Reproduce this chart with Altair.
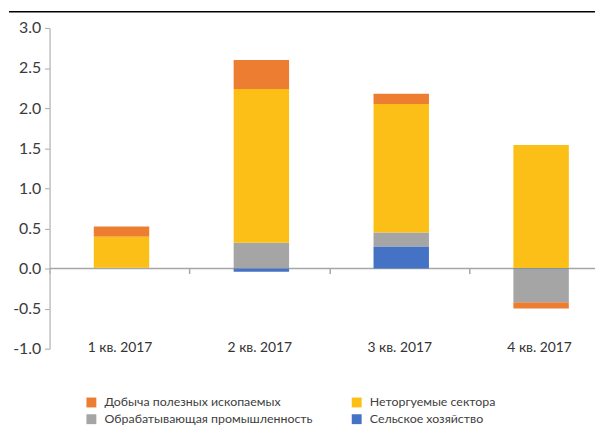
import altair as alt
import pandas as pd

quarters = ["1 кв. 2017", "2 кв. 2017", "3 кв. 2017", "4 кв. 2017"]
series = ["Добыча полезных ископаемых", "Обрабатывающая промышленность",
          "Неторгуемые сектора", "Сельское хозяйство"]
colors = ["#ED7D31", "#A5A5A5", "#FCBF17", "#4472C4"]
stack_rank = [3, 1, 2, 0]

mining = [0.13, 0.36, 0.13, -0.08]
manufacturing = [0.01, 0.32, 0.18, -0.41]
nontradable = [0.385, 1.92, 1.60, 1.54]
agriculture = [0.0, -0.04, 0.27, -0.01]

y_ticks = [-1.0, -0.5, 0.0, 0.5, 1.0, 1.5, 2.0, 2.5, 3.0]

rows = []
for s, vals, r in zip(series, [mining, manufacturing, nontradable, agriculture], stack_rank):
    for q, v in zip(quarters, vals):
        rows.append({"quarter": q, "series": s, "value": v, "rank": r})
df = pd.DataFrame(rows)
one = pd.DataFrame({"a": [0]})

FONT = "Lato"
W, H = 551, 324
STEP = 141.3

bars = alt.Chart(df).mark_bar(size=56, xOffset=2).encode(
    x=alt.X("quarter:N", sort=quarters,
            scale=alt.Scale(type="point", range=[STEP / 2, STEP * 3.5], padding=0),
            axis=alt.Axis(title=None, labelAngle=0, domain=False, ticks=True,
                          tickSize=5, tickColor="#A6A6A6", tickWidth=1.5,
                          tickOffset=-STEP / 2, labelOffset=STEP / 2,
                          offset=-81, labelPadding=68, labelFontSize=14,
                          labelColor="#333333", labelFont=FONT)),
    y=alt.Y("value:Q", stack="zero",
            scale=alt.Scale(domain=[-1, 3], nice=False),
            axis=alt.Axis(title=None, values=y_ticks, grid=False,
                          domainColor="#BFBFBF", domainWidth=1.5,
                          tickColor="#A6A6A6", tickSize=5, tickWidth=1,
                          labelPadding=4, labelFontSize=16, labelFont=FONT,
                          labelColor="#3A3A3A",
                          labelExpr="datum.value < 0 ? '-' + format(-datum.value, '.1f') : format(datum.value, '.1f')")),
    color=alt.Color("series:N",
                    scale=alt.Scale(domain=series, range=colors),
                    legend=alt.Legend(title=None, orient="none", legendX=36, legendY=372,
                                      columns=2, symbolType="square", symbolSize=100,
                                      symbolStrokeWidth=0, labelFontSize=12.5, labelFont=FONT,
                                      labelColor="#404040", columnPadding=38, rowPadding=4,
                                      labelOffset=7, padding=0, labelLimit=400)),
    order=alt.Order("rank:Q"),
)

zero = alt.Chart(one).mark_rule(color="#A6A6A6", strokeWidth=1.5).encode(
    y=alt.datum(0), x=alt.value(0), x2=alt.value(W))

topline = alt.Chart(one).mark_rule(color="black", strokeWidth=1.5).encode(
    x=alt.value(-41), x2=alt.value(W), y=alt.value(-16.3))

chart = alt.layer(zero, bars, topline).properties(
    width=W, height=H,
    padding={"left": 0, "top": 0, "right": 0, "bottom": 0},
).configure_view(stroke=None)

chart.save("out.html", embed_options={"renderer": "svg", "actions": False})
